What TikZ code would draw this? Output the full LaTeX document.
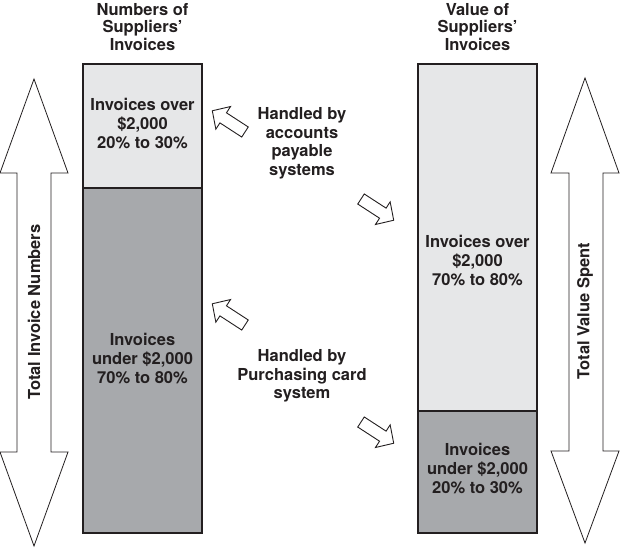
\documentclass[tikz,border=0pt]{standalone}
\usepackage{fontspec}
\setmainfont{TeX Gyre Heros}
\definecolor{ink}{HTML}{231F20}
\definecolor{lightfill}{HTML}{E6E7E8}
\definecolor{darkfill}{HTML}{A7A9AC}
\begin{document}
\begin{tikzpicture}[x=1pt,y=-1pt,
  lbl/.style={text=ink,font=\fontsize{16.5}{19}\selectfont\bfseries,align=center,inner sep=0pt},
  ttl/.style={lbl,font=\fontsize{16.5}{17.5}\selectfont\bfseries},
  hnd/.style={lbl,font=\fontsize{16.5}{18.5}\selectfont\bfseries},
  boxline/.style={draw=ink,line width=1.8pt},
  bigarrow/.style={draw=ink,fill=white,line width=0.8pt,line join=miter},
  smallarrow/.style={draw=ink,fill=white,line width=0.9pt,line join=miter}]
\useasboundingbox (0,0) rectangle (620,547);
% left column
\fill[lightfill] (83,64) rectangle (202,188);
\fill[darkfill] (83,188) rectangle (202,533);
\draw[boxline] (83,64) rectangle (202,533);
\draw[boxline] (83,188) -- (202,188);
% right column
\fill[lightfill] (418,64) rectangle (537,411);
\fill[darkfill] (418,411) rectangle (537,533);
\draw[boxline] (418,64) rectangle (537,533);
\draw[boxline] (418,411) -- (537,411);
% big double arrows
\draw[bigarrow] (34,79) -- (68,173) -- (51,173) -- (51,452) -- (68,452) -- (34,546)
  -- (0,452) -- (17,452) -- (17,173) -- (0,173) -- cycle;
\draw[bigarrow] (585,78) -- (619,173) -- (603,173) -- (603,451) -- (619,451) -- (585,543)
  -- (551,451) -- (569,451) -- (569,173) -- (551,173) -- cycle;
% small block arrows
\foreach \px/\py/\ang in {245/132/147, 361/199/-33, 245/325/147, 361/422/-33}{
  \draw[smallarrow,shift={(\px,\py)},rotate=\ang]
    (0,-6) -- (26,-6) -- (26,-13.5) -- (39,0) -- (26,13.5) -- (26,6) -- (0,6) -- cycle;
}
% titles
\node[ttl] (t1) at (142.5,27) {Numbers of\\Suppliers’\\Invoices};
\node[ttl] (t2) at (477.5,27) {Value of\\Suppliers’\\Invoices};
% box texts
\node[lbl] (a1) at (142.5,124) {Invoices over\\\$2,000\\20\% to 30\%};
\node[lbl] (a2) at (142.5,359) {Invoices\\under \$2,000\\70\% to 80\%};
\node[lbl] (b1) at (477.5,261) {Invoices over\\\$2,000\\70\% to 80\%};
\node[lbl] (b2) at (477.5,469) {Invoices\\under \$2,000\\20\% to 30\%};
% middle texts
\node[hnd] (h1) at (302,143.5) {Handled by\\accounts\\payable\\systems};
\node[hnd] (h2) at (302,376) {Handled by\\Purchasing card\\system};
% vertical labels
\node[lbl,rotate=90] (v1) at (34,312) {Total Invoice Numbers};
\node[lbl,rotate=90] (v2) at (585,311) {Total Value Spent};
\end{tikzpicture}
\end{document}
